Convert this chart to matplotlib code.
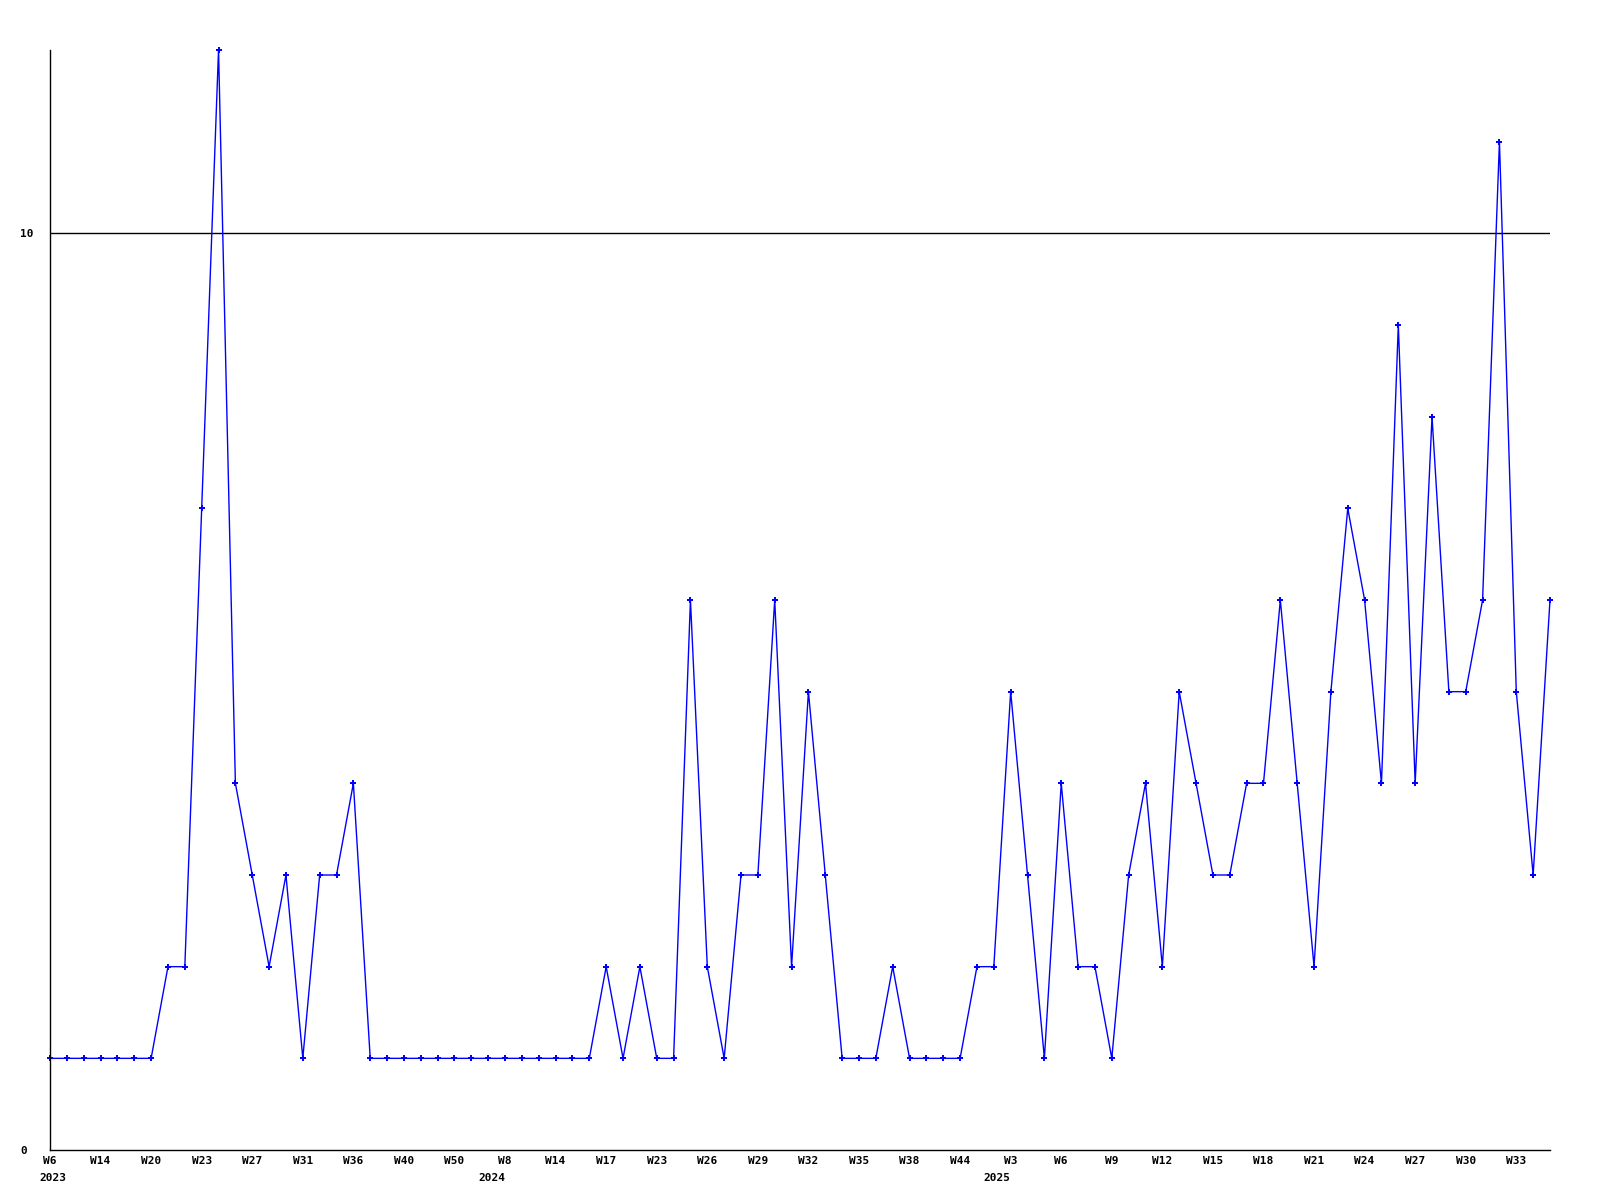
import matplotlib
matplotlib.use("Agg")
import matplotlib.pyplot as plt
import matplotlib.transforms as mtransforms
import numpy as np

# weekly counts, one value per week shown on the axis
counts = [1, 1, 1, 1, 1, 1, 1, 2, 2, 7,
          12, 4, 3, 2, 3, 1, 3, 3, 4, 1,
          1, 1, 1, 1, 1, 1, 1, 1, 1, 1,
          1, 1, 1, 2, 1, 2, 1, 1, 6, 2,
          1, 3, 3, 6, 2, 5, 3, 1, 1, 1,
          2, 1, 1, 1, 1, 2, 2, 5, 3, 1,
          4, 2, 2, 1, 3, 4, 2, 5, 4, 3,
          3, 4, 4, 6, 4, 2, 5, 7, 6, 4,
          9, 4, 8, 5, 5, 6, 11, 5, 3, 6]

# every third week gets a label
week_labels = ["W6", "W14", "W20", "W23", "W27", "W31", "W36", "W40", "W50", "W8",
               "W14", "W17", "W23", "W26", "W29", "W32", "W35", "W38", "W44", "W3",
               "W6", "W9", "W12", "W15", "W18", "W21", "W24", "W27", "W30", "W33"]
label_step = 3

# year marks: (label index, year)
year_marks = [(0, "2023"), (9, "2024"), (19, "2025")]

y_ticks = [0, 10]

font = {"family": "DejaVu Sans Mono", "weight": "bold", "size": 8}

fig = plt.figure(figsize=(16, 12), dpi=100)
ax = fig.add_axes([50 / 1600, 50 / 1200, 1500 / 1600, 1100 / 1200])

x = np.arange(len(counts))
ax.plot(x, counts, color="#0000ff", linewidth=1, marker="P", markersize=4,
        markeredgewidth=0, clip_on=False)

ax.set_xlim(0, len(counts) - 1)
ax.set_ylim(0, 12)

# only the 10 line is drawn across
ax.axhline(10, color="black", linewidth=1, zorder=0)

for side in ["top", "right"]:
    ax.spines[side].set_visible(False)
for side in ["left", "bottom"]:
    ax.spines[side].set_color("black")
    ax.spines[side].set_linewidth(1)

tick_pos = x[::label_step]
ax.set_xticks(tick_pos)
ax.set_xticklabels(week_labels, fontdict=font)
ax.set_yticks(y_ticks)
ax.set_yticklabels([str(v) for v in y_ticks], fontdict=font)
for lbl in ax.get_yticklabels():
    lbl.set_horizontalalignment("left")
ax.tick_params(axis="x", length=0, pad=4)
ax.tick_params(axis="y", length=0, pad=21.5)

# year labels under the first week of each year
for idx, year in year_marks:
    pos = tick_pos[idx]
    if idx == 0:
        ax.annotate(year, xy=(pos, 0), xycoords=("data", "axes fraction"),
                    xytext=(-7.5, -16.5), textcoords="offset points",
                    ha="left", va="top", **font)
    else:
        ax.annotate(year, xy=(pos, 0), xycoords=("data", "axes fraction"),
                    xytext=(0, -16.5), textcoords="offset points",
                    ha="right", va="top", **font)

fig.savefig("out.png", dpi=100, facecolor="white")
